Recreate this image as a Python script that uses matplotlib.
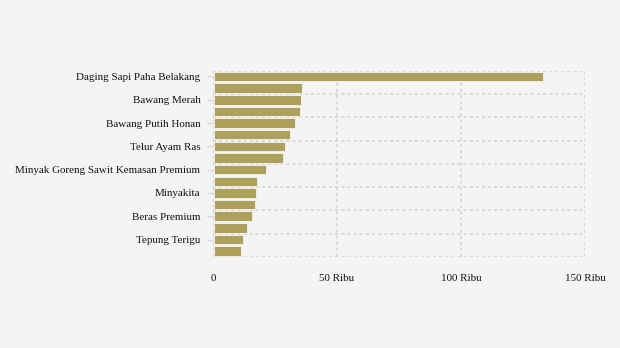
import matplotlib
matplotlib.use("Agg")
from matplotlib import pyplot as plt

# komoditas (urut dari harga tertinggi), hanya label genap yang ditampilkan
komoditas = [
    "Daging Sapi Paha Belakang", "Daging Ayam Ras",
    "Bawang Merah", "Bawang Putih Bonggol",
    "Bawang Putih Honan", "Cabai Merah Keriting",
    "Telur Ayam Ras", "Cabai Rawit Merah",
    "Minyak Goreng Sawit Kemasan Premium", "Gula Konsumsi",
    "Minyakita", "Minyak Goreng Curah",
    "Beras Premium", "Beras Medium",
    "Tepung Terigu", "Tepung Terigu Curah",
]
harga = [132700, 35500, 35100, 34700, 32700, 31000, 28600, 27800,
         21000, 17700, 16900, 16500, 15300, 13300, 11700, 10900]
xticks = [0, 50000, 100000, 150000]
xlabels = ["0", "50 Ribu", "100 Ribu", "150 Ribu"]

bg = "#f4f4f4"
plt.rcParams["font.family"] = ["Liberation Serif", "DejaVu Serif"]

fig = plt.figure(figsize=(6.2, 3.48), dpi=100, facecolor=bg)
ax = fig.add_axes([0.3435, 0.2615, 0.6, 0.5355], facecolor=bg)

pos = list(range(len(komoditas)))
ax.barh(pos, harga, height=0.82, left=250, color="#ada05b",
        edgecolor="#f4f4f4", linewidth=0.6, zorder=3)

ax.set_xlim(0, 150000)
ax.set_ylim(len(komoditas) - 0.5, -0.5)

ax.set_xticks(xticks)
ax.set_xticklabels(xlabels, fontsize=7.9, color="#111111")
ax.tick_params(axis="x", length=0, pad=12)

ax.set_yticks(pos[::2])
ax.set_yticklabels(komoditas[::2], fontsize=7.9, color="#111111")
ax.tick_params(axis="y", length=4, color="#d8d8d8", width=1, pad=5)

# garis bantu putus-putus
for x in xticks:
    ax.axvline(x, color="#d2d2d2", linestyle=(0, (2, 2)), linewidth=1.1, zorder=1)
for y in [p - 0.5 for p in range(0, len(komoditas) + 1, 2)]:
    ax.axhline(y, color="#d2d2d2", linestyle=(0, (2, 2)), linewidth=1.1, zorder=1)

for s in ax.spines.values():
    s.set_visible(False)

fig.savefig("out.png", dpi=100, facecolor=bg)
